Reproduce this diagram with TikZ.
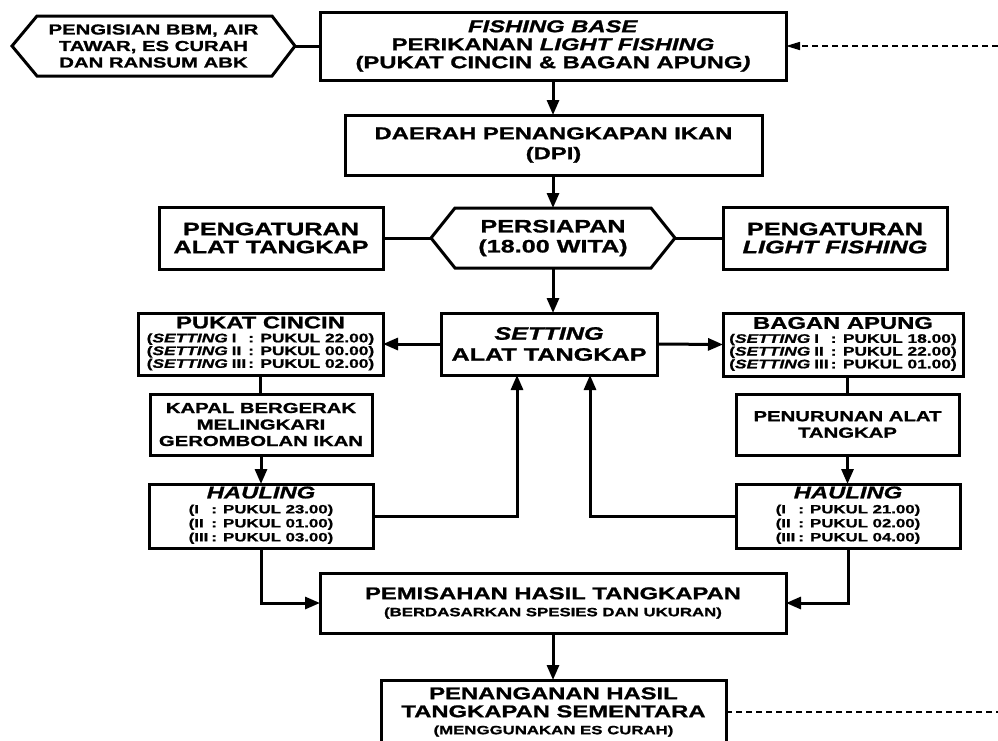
\documentclass[tikz,border=0pt]{standalone}
\usepackage{fontspec}
\setmainfont[FakeStretch=1.4, BoldFeatures={FakeBold=1.2}, BoldItalicFeatures={FakeBold=1.2}]{Liberation Sans}
\usetikzlibrary{arrows.meta,calc}

% fonts used in the boxes
\newcommand\bigf{\bfseries\fontsize{17}{18}\selectfont}
\newcommand\midf{\bfseries\fontsize{14.5}{16.5}\selectfont}
\newcommand\smallf{\bfseries\fontsize{12.4}{12.5}\selectfont}
\newcommand\tinyf{\bfseries\fontsize{12}{12}\selectfont}

% three setting times of a gear
\newcommand\settab[3]{{\smallf\begin{tabular}[t]{@{}l@{\hspace{4pt}}l@{\hspace{2pt}}l@{}}
(\textit{SETTING} & I & : PUKUL #1)\\
(\textit{SETTING} & II & : PUKUL #2)\\
(\textit{SETTING} & III & : PUKUL #3)
\end{tabular}}}

% three hauling times
\newcommand\haultab[3]{{\bfseries\fontsize{12}{14}\selectfont\begin{tabular}[t]{@{}l@{\hspace{3pt}}l@{}}
(I & : PUKUL #1)\\
(II & : PUKUL #2)\\
(III & : PUKUL #3)
\end{tabular}}}

% six-sided frame around a node: flat top and bottom, pointed ends
\newcommand\hexframe[3]{%
  \draw[line width=3pt]
    (#1.west) -- ([xshift=#2]#1.north west) -- ([xshift=-#3]#1.north east)
    -- (#1.east) -- ([xshift=-#3]#1.south east) -- ([xshift=#2]#1.south west) -- cycle;}

\begin{document}
\begin{tikzpicture}[x=1pt,y=-1pt,
  every node/.style={inner sep=0pt, outer sep=0pt},
  box/.style={draw, line width=3pt, align=center, font=\bigf},
  hexnode/.style={align=center},
  arr/.style={line width=3pt, -{Triangle[length=15pt,width=12pt]}},
  link/.style={line width=3pt},
  dline/.style={line width=1.6pt, dash pattern=on 6pt off 4pt},
  dlinearr/.style={dline, -{Triangle[length=14pt,width=8pt]}}
]
\useasboundingbox (0,0) rectangle (998,740);
\clip (0,0) rectangle (998,740);

% ---- top row ----
\node[hexnode, font=\midf, minimum width=283pt, minimum height=60pt] (supply) at (153.5,46)
  {PENGISIAN BBM, AIR\\TAWAR, ES CURAH\\DAN RANSUM ABK};
\hexframe{supply}{25pt}{23pt}

\node[box, minimum width=466pt, minimum height=68pt] (base) at (553,46)
  {\textit{FISHING BASE}\\PERIKANAN \textit{LIGHT FISHING}\\(PUKAT CINCIN \& BAGAN APUNG\textit{)}};

\node[box, minimum width=417pt, minimum height=60pt] (dpi) at (553.5,145)
  {DAERAH PENANGKAPAN IKAN\\[2pt](DPI)};

% ---- preparation ----
\node[hexnode, font=\bfseries\fontsize{18}{20}\selectfont, minimum width=244pt, minimum height=60pt] (prep) at (553,238)
  {PERSIAPAN\\(18.00 WITA)};
\hexframe{prep}{24pt}{24pt}

\node[box, font=\bfseries\fontsize{18}{18}\selectfont, minimum width=224pt, minimum height=62pt] (gearset) at (271,238)
  {PENGATURAN\\ALAT TANGKAP};
\node[box, font=\bfseries\fontsize{18}{18}\selectfont, minimum width=224pt, minimum height=62pt] (lightset) at (835,238)
  {PENGATURAN\\\textit{LIGHT FISHING}};

% ---- setting ----
\node[box, font=\bfseries\fontsize{18}{21}\selectfont, minimum width=216pt, minimum height=62pt] (setting) at (549,344)
  {\textit{SETTING}\\ALAT TANGKAP};

\node[box, minimum width=245pt, minimum height=62pt] (purse) at (260.5,344)
  {PUKAT CINCIN\\[-4pt]\settab{22.00}{00.00}{02.00}};
\node[box, minimum width=240pt, minimum height=63pt] (liftnet) at (843,344.5)
  {BAGAN APUNG\\[-4pt]\settab{18.00}{22.00}{01.00}};

\node[box, font=\midf, minimum width=222pt, minimum height=61pt] (encircle) at (261,424.5)
  {KAPAL BERGERAK\\MELINGKARI\\GEROMBOLAN IKAN};
\node[box, font=\midf, minimum width=223pt, minimum height=61pt] (lower) at (847.5,424.5)
  {PENURUNAN ALAT\\TANGKAP};

% ---- hauling ----
\node[box, minimum width=224pt, minimum height=64pt] (haulL) at (261,516)
  {\textit{HAULING}\\[-3pt]\haultab{23.00}{01.00}{03.00}};
\node[box, minimum width=224pt, minimum height=64pt] (haulR) at (848,516)
  {\textit{HAULING}\\[-3pt]\haultab{21.00}{02.00}{04.00}};

% ---- sorting and handling ----
\node[box, minimum width=466pt, minimum height=60pt] (sort) at (553,603)
  {PEMISAHAN HASIL TANGKAPAN\\[-1pt]{\tinyf (BERDASARKAN SPESIES DAN UKURAN)}};
\node[box, minimum width=345pt, minimum height=64pt] (handle) at (553.5,712)
  {PENANGANAN HASIL\\TANGKAPAN SEMENTARA\\[-1pt]{\tinyf (MENGGUNAKAN ES CURAH)}};

\coordinate (backTop) at (998,46);
\coordinate (backBot) at (998,712);

% ---- connectors ----
\draw[link] (supply.east) -- (base.west);
\draw[arr] (base.south) -- (base.south |- dpi.north);
\draw[arr] (dpi.south -| base.south) -- (prep.north);
\draw[link] (gearset.east) -- (prep.west);
\draw[link] (lightset.west) -- (prep.east);
\draw[arr] (prep.south) -- (prep.south |- setting.north);
\draw[arr] (setting.west) -- (purse.east);
\draw[arr] (setting.east) -- (liftnet.west);
\draw[link] (purse.south) -- (purse.south |- encircle.north);
\draw[arr] (encircle.south) -- (encircle.south |- haulL.north);
\draw[link] (lower.north |- liftnet.south) -- (lower.north);
\draw[arr] (lower.south) -- (lower.south |- haulR.north);
\draw[arr] (haulL.east) -| ([xshift=-32pt]setting.south);
\draw[arr] (haulR.west) -| ([xshift=41pt]setting.south);
\draw[arr] (haulL.south) |- (sort.west);
\draw[arr] (haulR.south) |- (sort.east);
\draw[arr] (sort.south) -- (sort.south |- handle.north);
\draw[dlinearr] (backTop) -- (base.east);
\draw[dline] (handle.east) -- (backBot);
\end{tikzpicture}
\end{document}
